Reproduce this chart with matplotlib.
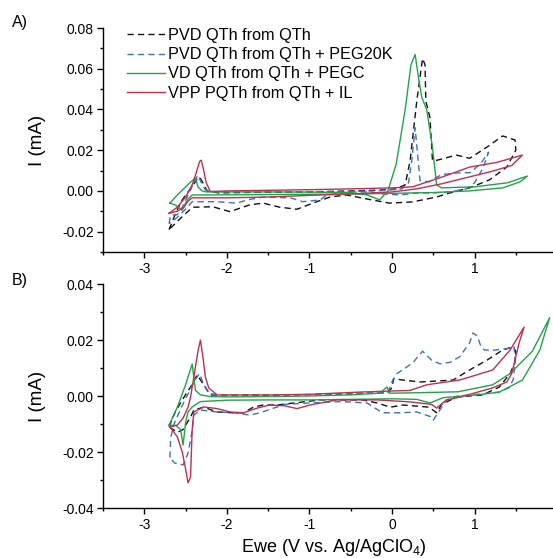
import matplotlib
matplotlib.use("Agg")
import matplotlib.pyplot as plt
from matplotlib.ticker import MultipleLocator, FormatStrFormatter

plt.rcParams['font.family'] = ['Liberation Sans', 'DejaVu Sans']
plt.rcParams['axes.unicode_minus'] = False
plt.rcParams['mathtext.fontset'] = 'custom'
plt.rcParams['mathtext.rm'] = 'Liberation Sans'
plt.rcParams['mathtext.it'] = 'Liberation Sans:italic'

labels = ["PVD QTh from QTh", "PVD QTh from QTh + PEG20K",
          "VD QTh from QTh + PEGC", "VPP PQTh from QTh + IL"]
colors = ["#111111", "#3f6fc0", "#22a34a", "#c0304f"]
styles = ["--", "--", "-", "-"]

x_ticks = [-3, -2, -1, 0, 1]

# ---------- Panel A ----------
a_black_x = [-2.70, -2.62, -2.55, -2.48, -2.42, -2.36, -2.33, -2.29, -2.24, -2.10, -1.80, -1.50, -1.00, -0.50,
             -0.10, 0.05, 0.16, 0.22, 0.30, 0.37, 0.40, 0.41, 0.46, 0.49, 0.54, 0.78, 0.94, 1.15, 1.34, 1.49,
             1.50, 1.39, 1.18, 0.94, 0.70, 0.54, 0.25, -0.03, -0.30, -0.55, -0.75, -0.96, -1.15, -1.36, -1.56,
             -1.72, -1.88, -1.96, -2.17, -2.41, -2.47, -2.55, -2.70]
a_black_y = [-0.019, -0.011, -0.005, -0.001, 0.002, 0.006, 0.0068, 0.004, 0.000, -0.001, -0.0008, -0.0006, -0.0005, 0.0,
             0.0005, 0.001, 0.003, 0.015, 0.044, 0.065, 0.062, 0.044, 0.036, 0.015, 0.015, 0.0176, 0.016, 0.0215, 0.027, 0.025,
             0.020, 0.0117, 0.0054, 0.0015, -0.001, -0.003, -0.0054, -0.006, -0.004, -0.002, -0.003, -0.006, -0.009, -0.008, -0.006,
             -0.0068, -0.009, -0.0102, -0.0078, -0.008, -0.010, -0.013, -0.019]

a_blue_x = [-2.70, -2.68, -2.60, -2.54, -2.47, -2.40, -2.35, -2.31, -2.26, -2.15, -1.80, -1.20, -0.60, -0.20,
            0.00, 0.12, 0.20, 0.24, 0.28, 0.31, 0.34, 0.45, 0.60, 0.78, 0.95, 1.08, 1.17, 1.10, 1.00, 0.90,
            0.70, 0.50, 0.30, 0.10, -0.10, -0.30, -0.51, -0.79, -0.87, -1.08, -1.23, -1.56, -1.75, -1.88,
            -2.12, -2.42, -2.50, -2.60, -2.70]
a_blue_y = [-0.016, -0.012, -0.0117, -0.008, -0.002, 0.004, 0.0078, 0.004, 0.0005, -0.0005, -0.0005, -0.0004, -0.0003, 0.0,
            0.0005, 0.001, 0.004, 0.015, 0.031, 0.018, 0.005, 0.0045, 0.008, 0.0088, 0.009, 0.0137, 0.019, 0.011, 0.004, 0.001,
            -0.0005, -0.001, -0.001, -0.002, -0.0015, -0.0005, -0.0005, -0.002, -0.0044, -0.0053, -0.0034, -0.003, -0.0044, -0.006,
            -0.0053, -0.0053, -0.009, -0.013, -0.016]

a_green_x = [-2.69, -2.60, -2.50, -2.42, -2.38, -2.35, -2.30, -2.25, -2.00, -1.50, -1.00, -0.50, -0.30, -0.15,
             -0.05, 0.05, 0.16, 0.23, 0.28, 0.32, 0.36, 0.42, 0.49, 0.54, 0.60, 1.00, 1.40, 1.64, 1.55, 1.34,
             0.94, 0.50, 0.00, -0.50, -1.50, -2.20, -2.42, -2.47, -2.50, -2.54, -2.62, -2.69]
a_green_y = [-0.006, -0.002, 0.002, 0.005, 0.0063, 0.002, 0.0, -0.0005, -0.0005, -0.0005, -0.0006, -0.0008, -0.002, -0.0044,
             0.0, 0.013, 0.040, 0.062, 0.067, 0.056, 0.046, 0.040, 0.0215, 0.003, 0.0015, 0.002, 0.004, 0.0073, 0.0044, 0.0015,
             0.0, -0.0008, -0.0012, -0.0015, -0.0018, -0.002, -0.002, -0.004, -0.006, -0.0095, -0.007, -0.006]

a_red_x = [-2.70, -2.60, -2.50, -2.42, -2.37, -2.33, -2.31, -2.28, -2.25, -2.20, -2.00, -1.50, -1.00, -0.50,
           0.00, 0.25, 0.62, 0.94, 1.27, 1.58, 1.45, 1.20, 0.90, 0.60, 0.30, 0.00, -0.50, -1.00, -1.50,
           -2.00, -2.42, -2.47, -2.52, -2.60, -2.70]
a_red_y = [-0.011, -0.008, -0.003, 0.003, 0.009, 0.0145, 0.0151, 0.010, 0.004, -0.0003, 0.0, 0.0003, 0.0006, 0.001,
           0.0015, 0.002, 0.007, 0.0117, 0.014, 0.0176, 0.0125, 0.0095, 0.0065, 0.0035, 0.001, -0.0005, -0.0015, -0.0022, -0.003,
           -0.0034, -0.0034, -0.005, -0.008, -0.010, -0.011]

# ---------- Panel B ----------
b_black_x = [-2.70, -2.63, -2.54, -2.44, -2.36, -2.28, -2.20, -2.00, -1.50, -1.00, -0.50, -0.05, 0.00, 0.02,
             0.13, 0.34, 0.74, 0.94, 1.15, 1.34, 1.46, 1.50, 1.49, 1.43, 1.30, 1.10, 0.78, 0.60, 0.54, 0.45,
             0.13, -0.02, -0.18, -0.35, -0.87, -1.39, -1.56, -1.68, -1.80, -1.92, -2.12, -2.28, -2.40, -2.44,
             -2.53, -2.60, -2.70]
b_black_y = [-0.011, -0.006, -0.0014, 0.0032, 0.0075, 0.004, 0.0004, 0.0002, 0.0003, 0.0005, 0.0008, 0.0012, 0.003, 0.0062,
             0.0057, 0.005, 0.0057, 0.0093, 0.0128, 0.0164, 0.0175, 0.016, 0.012, 0.008, 0.0032, 0.0004, -0.0004, -0.003, -0.006, -0.004,
             -0.0032, -0.004, -0.0025, -0.0014, -0.0014, -0.0032, -0.0032, -0.004, -0.006, -0.006, -0.0057, -0.004, -0.005, -0.0075,
             -0.012, -0.013, -0.011]

b_blue_x = [-2.69, -2.68, -2.64, -2.55, -2.45, -2.38, -2.33, -2.28, -2.22, -2.10, -1.50, -1.00, -0.50, -0.05,
            0.01, 0.06, 0.25, 0.37, 0.48, 0.58, 0.70, 0.82, 0.94, 0.98, 1.03, 1.08, 1.12, 1.25, 1.40, 1.48,
            1.49, 1.47, 1.42, 1.30, 1.10, 0.80, 0.66, 0.58, 0.50, 0.48, 0.30, 0.10, -0.11, -0.23, -0.30,
            -0.60, -1.00, -1.30, -1.60, -1.72, -1.92, -2.12, -2.32, -2.40, -2.42, -2.44, -2.47, -2.53, -2.63,
            -2.69]
b_blue_y = [-0.022, -0.015, -0.010, -0.004, 0.002, 0.006, 0.0080, 0.004, 0.001, 0.0002, 0.0003, 0.0005, 0.0008, 0.0012,
            0.0057, 0.008, 0.0118, 0.0160, 0.0128, 0.0115, 0.012, 0.014, 0.019, 0.0225, 0.0215, 0.0175, 0.0164, 0.0164, 0.017, 0.0175,
            0.012, 0.006, 0.003, 0.0014, 0.0008, 0.0, -0.0014, -0.005, -0.0086, -0.0075, -0.0057, -0.006, -0.006, -0.0039, -0.0025,
            -0.002, -0.0025, -0.003, -0.006, -0.0068, -0.006, -0.0057, -0.005, -0.0068, -0.0125, -0.0157, -0.0204, -0.0246, -0.024,
            -0.022]

b_green_x = [-2.70, -2.60, -2.50, -2.42, -2.38, -2.32, -2.20, -2.00, -1.50, -1.00, -0.50, -0.15, -0.06, -0.03,
             0.20, 0.80, 1.22, 1.43, 1.70, 1.91, 1.79, 1.58, 1.30, 1.03, 0.62, 0.46, 0.30, 0.00, -0.50,
             -1.00, -1.50, -2.00, -2.32, -2.42, -2.47, -2.50, -2.53, -2.56, -2.62, -2.70]
b_green_y = [-0.0104, -0.004, 0.004, 0.0114, 0.002, 0.0004, -0.0002, -0.0003, -0.0002, 0.0, 0.0004, 0.0010, 0.0032, 0.0010,
             0.0011, 0.0015, 0.004, 0.008, 0.016, 0.028, 0.0164, 0.0057, 0.0014, 0.0004, -0.0006, -0.0025, -0.0012, -0.0010, -0.0012,
             -0.0014, -0.0014, -0.0015, -0.002, -0.0039, -0.0057, -0.0096, -0.0175, -0.012, -0.0105, -0.0104]

b_red_x = [-2.69, -2.60, -2.53, -2.47, -2.44, -2.40, -2.35, -2.32, -2.29, -2.26, -2.22, -2.12, -1.96, -1.50,
           -1.00, -0.39, 0.22, 0.42, 0.82, 1.22, 1.43, 1.60, 1.54, 1.45, 1.39, 1.22, 0.82, 0.66, 0.54,
           0.48, 0.22, -0.18, -0.67, -0.99, -1.15, -1.30, -1.48, -1.63, -1.80, -1.96, -2.12, -2.28, -2.40,
           -2.42, -2.44, -2.47, -2.50, -2.54, -2.60, -2.69]
b_red_y = [-0.011, -0.0104, -0.0079, -0.004, -0.0004, 0.0068, 0.016, 0.020, 0.014, 0.0068, 0.0029, 0.0004, 0.0004, 0.0004,
           0.0006, 0.0014, 0.002, 0.004, 0.0057, 0.0093, 0.0164, 0.0246, 0.019, 0.008, 0.005, 0.0029, -0.0004, -0.0014, -0.0043,
           -0.003, -0.0021, -0.0014, -0.0014, -0.0032, -0.0045, -0.0035, -0.0032, -0.0043, -0.006, -0.0057, -0.0045, -0.0039, -0.0057,
           -0.012, -0.029, -0.031, -0.026, -0.020, -0.0146, -0.011]

W, H = 553, 558
fig = plt.figure(figsize=(W / 100, H / 100), dpi=100)

def px_axes(left, top, right, bottom):
    return fig.add_axes([left / W, 1 - bottom / H, (right - left) / W, (bottom - top) / H])

axA = px_axes(103, 28, 553, 252)
axB = px_axes(103, 284, 553, 508)

panelA = [(a_black_x, a_black_y), (a_blue_x, a_blue_y), (a_green_x, a_green_y), (a_red_x, a_red_y)]
panelB = [(b_black_x, b_black_y), (b_blue_x, b_blue_y), (b_green_x, b_green_y), (b_red_x, b_red_y)]

for ax, series in ((axA, panelA), (axB, panelB)):
    for (xs, ys), c, ls, lab in zip(series, colors, styles, labels):
        kw = dict(color=c, lw=1.0, label=lab)
        if ls == "--":
            kw["dashes"] = (4.5, 3.0)
        ax.plot(xs, ys, **kw)
    ax.set_xlim(-3.5, 1.95)
    ax.spines['top'].set_visible(False)
    ax.spines['right'].set_visible(False)
    ax.spines['left'].set_linewidth(1.0)
    ax.spines['bottom'].set_linewidth(1.0)
    ax.set_xticks(x_ticks)
    ax.xaxis.set_minor_locator(MultipleLocator(0.5))
    ax.yaxis.set_major_formatter(FormatStrFormatter('%.2f'))
    ax.tick_params(which='major', direction='out', length=4.5, width=1.0, labelsize=10, pad=3)
    ax.tick_params(which='minor', direction='out', length=2.5, width=1.0)
    ax.tick_params(axis='y', which='major', pad=2)
    ax.set_facecolor('none')

axA.set_ylim(-0.03, 0.08)
axA.set_yticks([-0.02, 0.0, 0.02, 0.04, 0.06, 0.08])
axA.yaxis.set_minor_locator(MultipleLocator(0.01))
axB.set_ylim(-0.04, 0.04)
axB.set_yticks([-0.04, -0.02, 0.0, 0.02, 0.04])
axB.yaxis.set_minor_locator(MultipleLocator(0.01))

leg = axA.legend(loc='upper left', bbox_to_anchor=(0.053, 1.0), frameon=False, fontsize=11.7,
                 handlelength=2.35, handletextpad=0.2, labelspacing=0.26, borderpad=0, borderaxespad=0)

fig.text(12 / W, 1 - 22 / H, "A)", fontsize=11.5, va='center', ha='left')
fig.text(12 / W, 1 - 280 / H, "B)", fontsize=11.5, va='center', ha='left')
fig.text(38 / W, 1 - 140 / H, "I (mA)", fontsize=13.5, rotation=90, va='center', ha='center')
fig.text(38 / W, 1 - 396 / H, "I (mA)", fontsize=13.5, rotation=90, va='center', ha='center')
fig.text(334 / W, 1 - 547 / H, "Ewe (V vs. Ag/AgClO$_4$)", fontsize=13, va='center', ha='center')

fig.savefig("out.png", dpi=100)
